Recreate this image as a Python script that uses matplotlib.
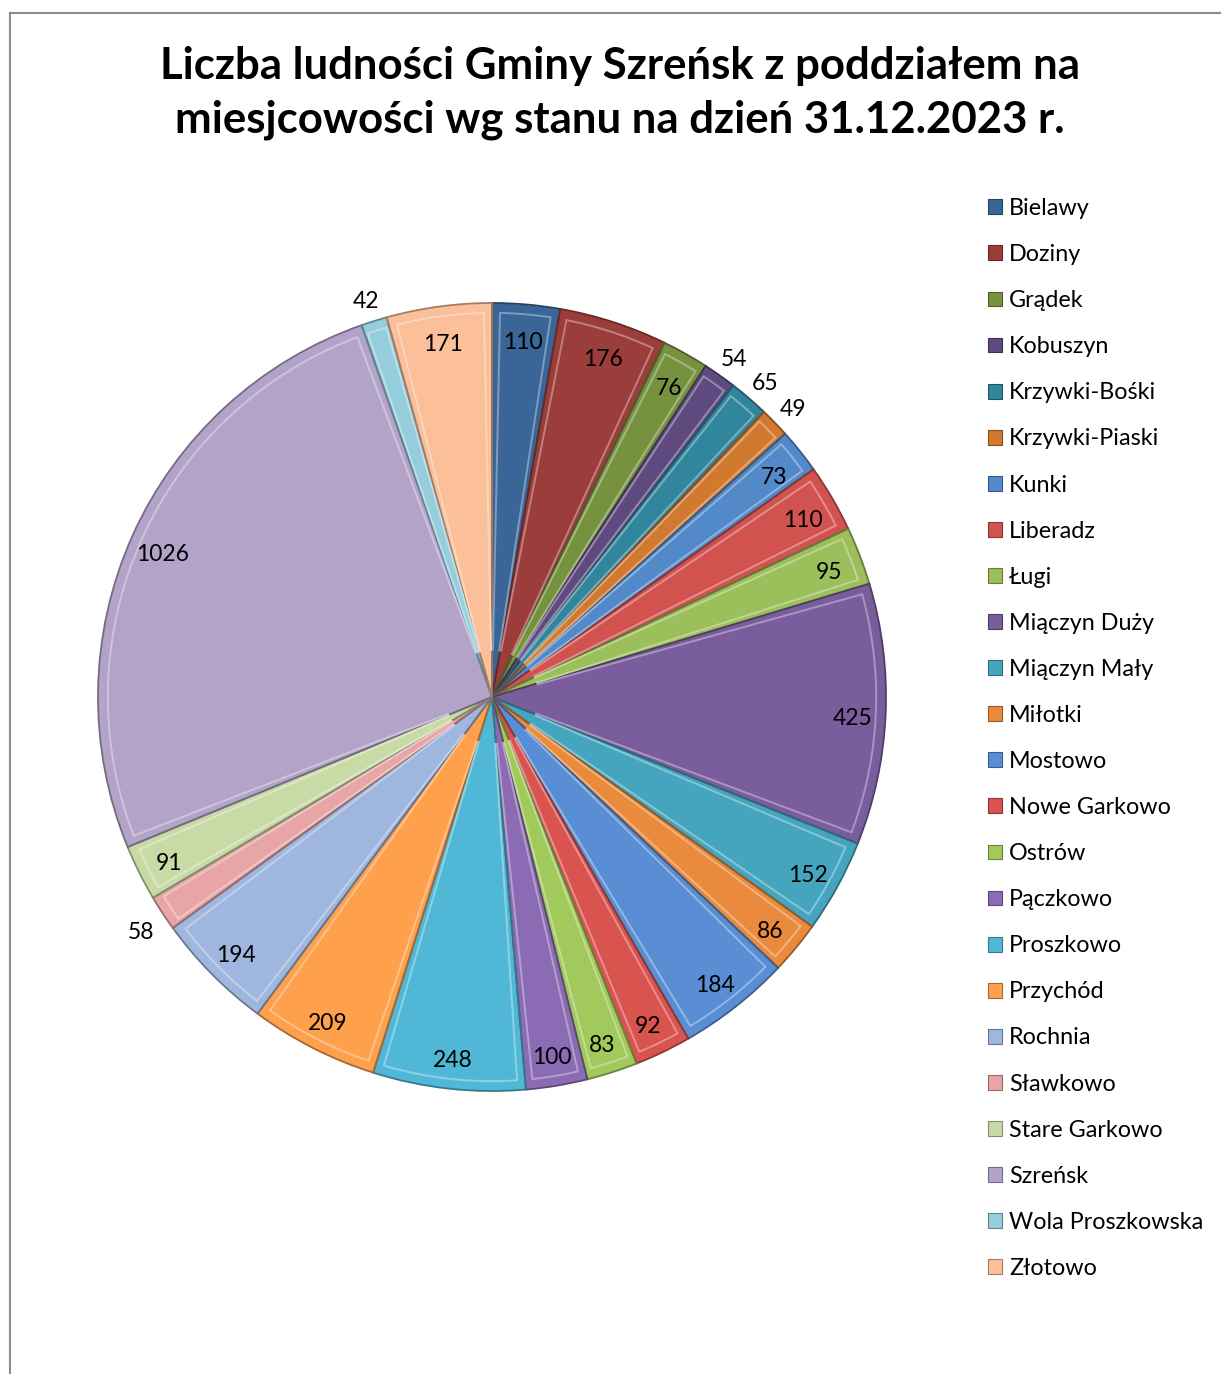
import numpy as np
import matplotlib
matplotlib.use("Agg")
import matplotlib.pyplot as plt  # noqa: E402
from matplotlib.patches import Wedge, Rectangle  # noqa: E402
from matplotlib.lines import Line2D  # noqa: E402
import matplotlib.colors as mcolors  # noqa: E402

plt.rcParams["font.family"] = ["Lato", "DejaVu Sans"]

TITLE = "Liczba ludności Gminy Szreńsk z poddziałem na\nmiesjcowości wg stanu na dzień 31.12.2023 r."

places = ["Bielawy", "Doziny", "Grądek", "Kobuszyn", "Krzywki-Bośki", "Krzywki-Piaski",
          "Kunki", "Liberadz", "Ługi", "Miączyn Duży", "Miączyn Mały", "Miłotki",
          "Mostowo", "Nowe Garkowo", "Ostrów", "Pączkowo", "Proszkowo", "Przychód",
          "Rochnia", "Sławkowo", "Stare Garkowo", "Szreńsk", "Wola Proszkowska", "Złotowo"]
population = [110, 176, 76, 54, 65, 49,
              73, 110, 95, 425, 152, 86,
              184, 92, 83, 100, 248, 209,
              194, 58, 91, 1026, 42, 171]
colors = ["#3a6597", "#9b3d3a", "#76923f", "#5f4a80", "#31859c", "#d0792f",
          "#5289c9", "#d2524f", "#9bbf5a", "#7a5d9c", "#45a5bf", "#e98a3c",
          "#5a8ed4", "#d9534f", "#a2c95c", "#8c6bb5", "#50b8d6", "#ffa04d",
          "#9fb7de", "#e7a6a5", "#c8dba6", "#b4a3c9", "#95cddc", "#fbbf9a"]


def shade(c, f):
    rgb = np.array(mcolors.to_rgb(c))
    if f > 0:
        rgb = rgb + (1 - rgb) * f
    else:
        rgb = rgb * (1 + f)
    return tuple(np.clip(rgb, 0, 1))


W, H = 1221, 1374
fig = plt.figure(figsize=(W / 100, H / 100), dpi=100)

# chart area border (top and left visible)
fig.add_artist(Line2D([10 / W, 1], [1 - 13 / H, 1 - 13 / H], color="#8c8c8c", lw=1.5))
fig.add_artist(Line2D([10 / W, 10 / W], [0, 1 - 13 / H], color="#8c8c8c", lw=1.5))

fig.text(620 / W, 1 - 93 / H, TITLE, ha="center", va="center", fontsize=31.5,
         fontweight="bold", linespacing=1.38)

# pie axes: centre (492, 697) px, radius ~394 px
cx, cy, r = 492, 697, 394
half = r * 1.2
ax = fig.add_axes([(cx - half) / W, (H - cy - half) / H, 2 * half / W, 2 * half / H])

wedges, _ = ax.pie(population, colors=colors, startangle=90, counterclock=False,
                   radius=1.0, wedgeprops=dict(edgecolor="white", linewidth=0.6))
ax.set_xlim(-1.2, 1.2)
ax.set_ylim(-1.2, 1.2)
ax.set_aspect("equal")
ax.axis("off")

# bevel look: dark rim on each slice + light highlight just inside it
for w, c in zip(wedges, colors):
    ax.add_patch(Wedge((0, 0), 1.0, w.theta1, w.theta2, fill=False,
                       edgecolor=shade(c, -0.35), lw=1.3))
    pad = min(1.2, (w.theta2 - w.theta1) * 0.12)
    t = np.deg2rad(np.linspace(w.theta1 + pad, w.theta2 - pad, 60))
    a0 = np.deg2rad(w.theta1 + pad)
    a1 = np.deg2rad(w.theta2 - pad)
    xs = np.concatenate([[0.12 * np.cos(a0)], 0.975 * np.cos(t), [0.12 * np.cos(a1)]])
    ys = np.concatenate([[0.12 * np.sin(a0)], 0.975 * np.sin(t), [0.12 * np.sin(a1)]])
    ax.plot(xs, ys, color=shade(c, 0.35), lw=1.4, solid_joinstyle="miter")

for w, v in zip(wedges, population):
    mid = np.deg2rad((w.theta1 + w.theta2) / 2)
    rr = 0.915 if v >= 70 else 1.065
    ax.text(rr * np.cos(mid), rr * np.sin(mid) - 0.013, str(v), ha="center", va="center",
            fontsize=16.5, color="black")

handles = [Rectangle((0, 0), 1, 1, facecolor=c, edgecolor=shade(c, -0.35), lw=0.8)
           for c in colors]
fig.legend(handles, places, loc="upper left", bbox_to_anchor=(988 / W, 1 - 198 / H),
           frameon=False, fontsize=16.8, handlelength=0.6, handleheight=0.6,
           handletextpad=0.3, labelspacing=1.075, borderaxespad=0, borderpad=0)

fig.savefig("out.png", dpi=100)
